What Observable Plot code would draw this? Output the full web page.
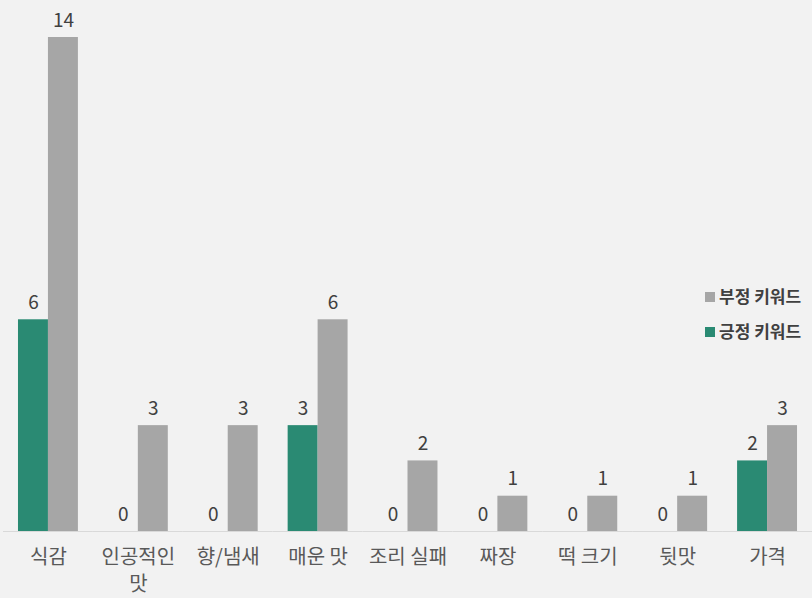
<!DOCTYPE html>
<html>
<head>
<meta charset="utf-8">
<script src="https://cdn.jsdelivr.net/npm/d3@7"></script>
<script src="https://cdn.jsdelivr.net/npm/@observablehq/plot@0.6"></script>
<style>
  html, body { margin: 0; padding: 0; background: #f2f2f2; }
  #wrap { position: relative; width: 812px; height: 598px; background: #f2f2f2; font-family: "Noto Sans CJK KR", "Noto Sans", sans-serif; }
  #legend { position: absolute; left: 705px; top: 278px; font-size: 17px; font-weight: 600; color: #404040; line-height: 35px; white-space: nowrap; }
  #legend .sw { display: inline-block; width: 10px; height: 10px; margin-right: 4px; vertical-align: 1px; }
</style>
</head>
<body>
<div id="wrap"><div id="chart"></div><div id="legend"></div></div>
<script>
const categories = ["식감", "인공적인 맛", "향/냄새", "매운 맛", "조리 실패", "짜장", "떡 크기", "뒷맛", "가격"];
const categoryLabels = ["식감", "인공적인\n맛", "향/냄새", "매운 맛", "조리 실패", "짜장", "떡 크기", "뒷맛", "가격"];
const positive = [6, 0, 0, 3, 0, 0, 0, 0, 2];
const negative = [14, 3, 3, 6, 2, 1, 1, 1, 3];
const seriesNames = ["긍정 키워드", "부정 키워드"];
const seriesColors = ["#2a8a73", "#a6a6a6"];
const legendOrder = ["부정 키워드", "긍정 키워드"];

const rows = [];
categories.forEach((c, i) => {
  rows.push({category: c, series: seriesNames[0], value: positive[i]});
  rows.push({category: c, series: seriesNames[1], value: negative[i]});
});
const labelRows = categories.map((c, i) => ({category: c, label: categoryLabels[i]}));

const chart = Plot.plot({
  width: 812,
  height: 598,
  marginTop: 37,
  marginBottom: 67,
  marginLeft: 3,
  marginRight: 0,
  style: {background: "transparent", fontFamily: "\"Noto Sans CJK KR\", \"Noto Sans\", sans-serif"},
  fx: {domain: categories, padding: 0, round: false, axis: null},
  x: {domain: seriesNames, paddingInner: 0, paddingOuter: 0.5, round: false, axis: null},
  y: {domain: [0, 14], axis: null},
  color: {domain: seriesNames, range: seriesColors},
  marks: [
    Plot.barY(rows, {fx: "category", x: "series", y: "value", fill: "series", inset: 0}),
    Plot.ruleY([0], {stroke: "#d9d9d9", strokeWidth: 1}),
    Plot.text(rows, {fx: "category", x: "series", y: "value", text: d => String(d.value), dy: -17, fontSize: 19, fill: "#404040"}),
    Plot.text(labelRows, {fx: "category", text: "label", frameAnchor: "bottom", dy: 14, lineAnchor: "top", fontSize: 20, lineHeight: 1.33, fill: "#595959"})
  ]
});
document.getElementById("chart").appendChild(chart);

const legend = document.getElementById("legend");
legendOrder.forEach(name => {
  const row = document.createElement("div");
  const sw = document.createElement("span");
  sw.className = "sw";
  sw.style.background = seriesColors[seriesNames.indexOf(name)];
  row.appendChild(sw);
  row.appendChild(document.createTextNode(name));
  legend.appendChild(row);
});
</script>
</body>
</html>
